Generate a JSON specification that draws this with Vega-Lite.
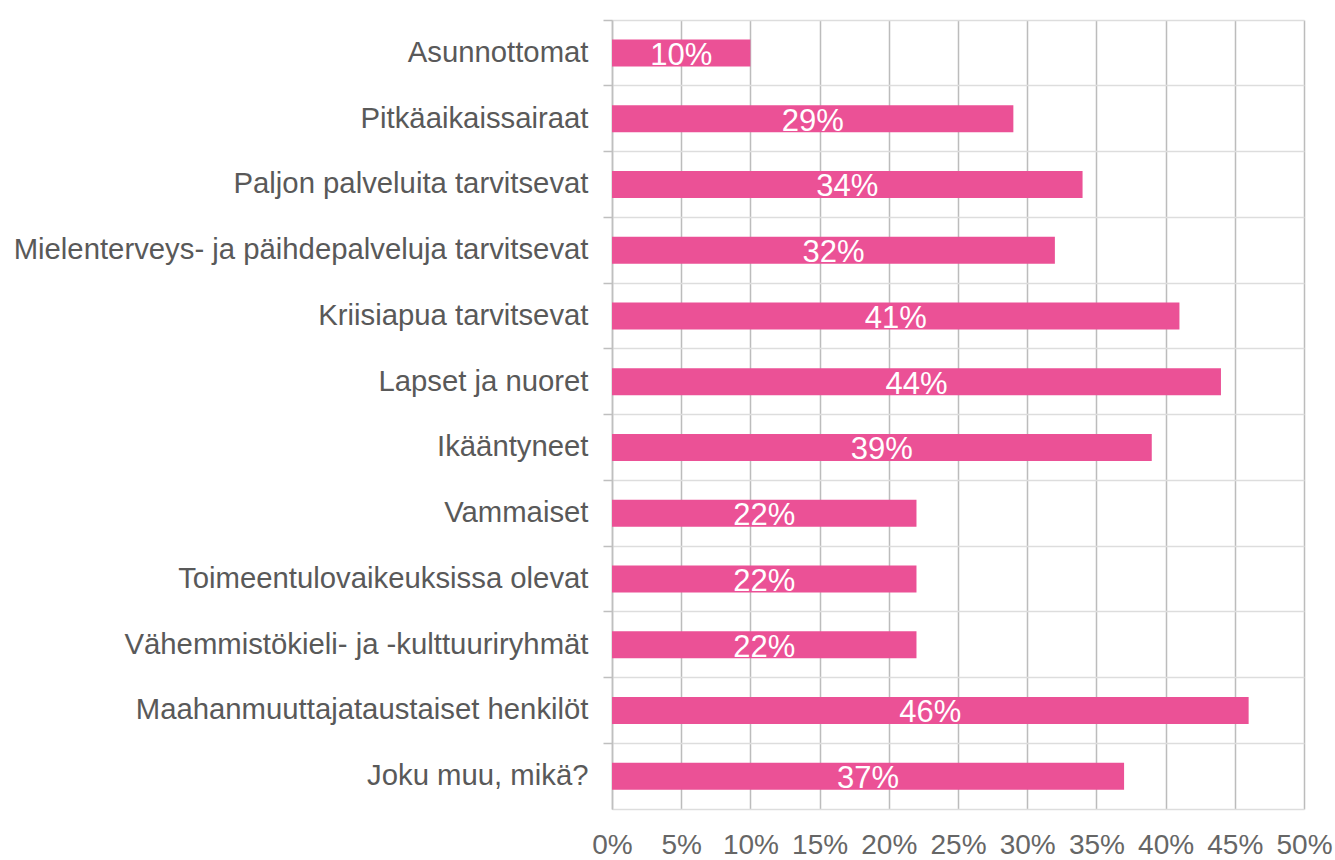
{
  "$schema": "https://vega.github.io/schema/vega-lite/v6.json",
  "autosize": {"type": "none"},
  "width": 692,
  "height": 789,
  "padding": {"left": 612, "top": 20, "right": 31, "bottom": 51},
  "background": "white",
  "config": {
    "view": {"stroke": null},
    "font": "Liberation Sans"
  },
  "data": {
    "values": [
      {"ryhma": "Asunnottomat", "osuus": 0.10},
      {"ryhma": "Pitkäaikaissairaat", "osuus": 0.29},
      {"ryhma": "Paljon palveluita tarvitsevat", "osuus": 0.34},
      {"ryhma": "Mielenterveys- ja päihdepalveluja tarvitsevat", "osuus": 0.32},
      {"ryhma": "Kriisiapua tarvitsevat", "osuus": 0.41},
      {"ryhma": "Lapset ja nuoret", "osuus": 0.44},
      {"ryhma": "Ikääntyneet", "osuus": 0.39},
      {"ryhma": "Vammaiset", "osuus": 0.22},
      {"ryhma": "Toimeentulovaikeuksissa olevat", "osuus": 0.22},
      {"ryhma": "Vähemmistökieli- ja -kulttuuriryhmät", "osuus": 0.22},
      {"ryhma": "Maahanmuuttajataustaiset henkilöt", "osuus": 0.46},
      {"ryhma": "Joku muu, mikä?", "osuus": 0.37}
    ]
  },
  "encoding": {
    "y": {
      "field": "ryhma",
      "type": "nominal",
      "sort": null,
      "scale": {"paddingInner": 0, "paddingOuter": 0},
      "axis": {
        "title": null,
        "bandPosition": 0,
        "grid": true,
        "gridColor": "#dddddd",
        "gridWidth": 1.5,
        "domainColor": "#bfbfbf",
        "domainWidth": 1.5,
        "tickColor": "#bfbfbf",
        "tickWidth": 1.5,
        "tickSize": 9,
        "labelPadding": 15,
        "labelFontSize": 29.3,
        "labelColor": "#595959",
        "labelFont": "Liberation Sans",
        "labelLimit": 700
      }
    }
  },
  "layer": [
    {
      "mark": {"type": "bar", "color": "#EB5196", "size": 27},
      "encoding": {
        "x": {
          "field": "osuus",
          "type": "quantitative",
          "scale": {"domain": [0, 0.5], "nice": false},
          "axis": {
            "title": null,
            "values": [0, 0.05, 0.1, 0.15, 0.2, 0.25, 0.3, 0.35, 0.4, 0.45, 0.5],
            "format": ".0%",
            "grid": true,
            "gridColor": "#bcbcbc",
            "gridWidth": 1.5,
            "ticks": false,
            "domainColor": "#dddddd",
            "domainWidth": 1.5,
            "labelPadding": 22,
            "labelFontSize": 28,
            "labelColor": "#666666",
            "labelFont": "Liberation Sans",
            "labelFlush": false,
            "labelOverlap": false,
            "labelBound": false
          }
        }
      }
    },
    {
      "mark": {"type": "text", "color": "white", "fontSize": 31, "font": "Liberation Sans", "align": "center", "baseline": "middle", "dy": 3},
      "encoding": {
        "x": {
          "field": "osuus",
          "type": "quantitative",
          "scale": {"domain": [0, 1], "nice": false},
          "axis": null
        },
        "text": {"field": "osuus", "type": "quantitative", "format": ".0%"}
      }
    }
  ],
  "resolve": {"scale": {"x": "independent"}}
}
